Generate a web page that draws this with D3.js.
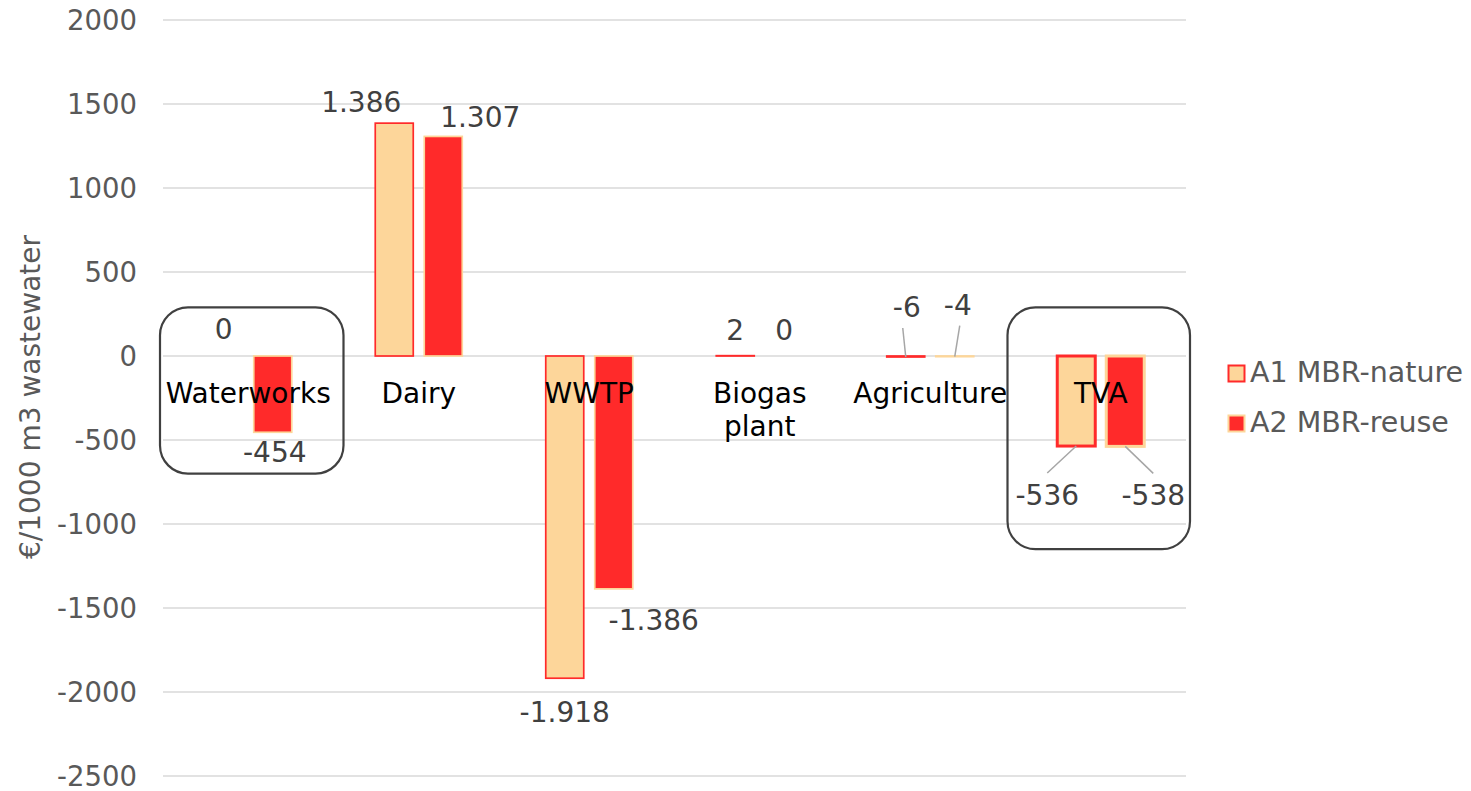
<!DOCTYPE html>
<html><head><meta charset="utf-8">
<script src="https://cdn.jsdelivr.net/npm/d3@7"></script>
<style>
html,body{margin:0;padding:0;background:#fff;}
svg{display:block;font-family:"DejaVu Sans",Verdana,sans-serif;}
</style></head>
<body>
<svg id="chart" width="1471" height="791"></svg>
<script>
const categories = ["Waterworks", "Dairy", "WWTP", "Biogas plant", "Agriculture", "TVA"];
const seriesNames = ["A1 MBR-nature", "A2 MBR-reuse"];
const a1Values = [0, 1386, -1918, 2, -6, -536];
const a2Values = [-454, 1307, -1386, 0, -4, -538];
const a1Labels = ["0", "1.386", "-1.918", "2", "-6", "-536"];
const a2Labels = ["-454", "1.307", "-1.386", "0", "-4", "-538"];
const yTicks = [2000, 1500, 1000, 500, 0, -500, -1000, -1500, -2000, -2500];
const yTitle = "€/1000 m3 wastewater";
const boxedCategories = ["Waterworks", "TVA"];

const svg = d3.select("#chart");
const left = 163, right = 1186;
const y = d3.scaleLinear().domain([-2500, 2000]).range([776, 20]);
const x = d3.scaleBand().domain(categories).range([left, right]);
const barW = 38, gap = 11;
const FS = 28;

const fillA1 = "#FDD69A", fillA2 = "#FF2A2A";
const colors = [{fill: fillA1, stroke: fillA2}, {fill: fillA2, stroke: fillA1}];

// gridlines
svg.append("g").selectAll("line").data(yTicks).join("line")
  .attr("x1", left).attr("x2", right)
  .attr("y1", d => y(d)).attr("y2", d => y(d))
  .attr("stroke", "#d9d9d9").attr("stroke-width", 1.6);

// y axis labels
const yAxis = d3.axisLeft(y).tickValues(yTicks).tickSize(0).tickPadding(0).tickFormat(d => String(d));
const ya = svg.append("g").attr("transform", "translate(137,0)").call(yAxis);
ya.select(".domain").remove();
ya.selectAll("text").attr("font-size", 27.5).attr("fill", "#595959")
  .attr("font-family", "DejaVu Sans, Verdana, sans-serif").attr("dy", "0.36em");

// y title
svg.append("text").attr("transform", `translate(40,397) rotate(-90)`)
  .attr("text-anchor", "middle").attr("font-size", 28).attr("fill", "#595959")
  .text(yTitle);

// bars
const series = [a1Values, a2Values];
const cx = (c, s) => x(c) + x.bandwidth() / 2 + (s === 0 ? -(barW + gap) / 2 : (barW + gap) / 2);
series.forEach((vals, s) => {
  const data = categories.map((c, i) => ({c, v: vals[i]})).filter(d => d.v !== 0);
  svg.append("g").selectAll("rect").data(data).join("rect")
    .attr("x", d => cx(d.c, s) - barW / 2)
    .attr("width", barW)
    .attr("y", d => Math.min(y(d.v), y(0)))
    .attr("height", d => Math.abs(y(d.v) - y(0)))
    .attr("fill", colors[s].fill)
    .attr("stroke", colors[s].stroke)
    .attr("stroke-width", d => d.c === "TVA" ? 3 : 1.7);
});

// category labels
categories.forEach(c => {
  const t = svg.append("text").attr("x", x(c) + x.bandwidth() / 2).attr("y", 403)
    .attr("text-anchor", "middle").attr("font-size", FS).attr("fill", "#000");
  const words = c === "Biogas plant" ? ["Biogas", "plant"] : [c];
  words.forEach((w, i) => t.append("tspan").attr("x", x(c) + x.bandwidth() / 2).attr("dy", i ? 33 : 0).text(w));
});

// data labels (offsets relative to bar ends)
const labelOffsets = [
  [[0, -17], [2, 30]],
  [[-33, -11], [37, -9]],
  [[0, 44], [40, 41]],
  [[0, -16], [0, -16]],
  [[1, -40], [3, -42]],
  [[-29, 59], [28, 59]]
];
const leaders = {
  "Agriculture": [[[-3, -29], [0, 0]], [[5, -31], [0, 0]]],
  "TVA": [[[-29, 27], [0, 0]], [[28, 27], [0, 0]]]
};
const labelsArr = [a1Labels, a2Labels];
categories.forEach((c, i) => {
  [0, 1].forEach(s => {
    const bx = cx(c, s), by = y(series[s][i]);
    const off = labelOffsets[i][s];
    svg.append("text").attr("x", bx + off[0]).attr("y", by + off[1])
      .attr("text-anchor", "middle").attr("font-size", FS).attr("fill", "#404040")
      .text(labelsArr[s][i]);
    if (leaders[c]) {
      const L = leaders[c][s];
      svg.append("line").attr("x1", bx + L[0][0]).attr("y1", by + L[0][1])
        .attr("x2", bx + L[1][0]).attr("y2", by + L[1][1])
        .attr("stroke", "#a6a6a6").attr("stroke-width", 1.5);
    }
  });
});

// rounded boxes
const boxY = {"Waterworks": [290, -700], "TVA": [290, -1150]};
const boxX = {"Waterworks": [-3, 10], "TVA": [-8, 4]};
boxedCategories.forEach(c => {
  const x0 = x(c) + boxX[c][0], x1 = x(c) + x.bandwidth() + boxX[c][1];
  svg.append("rect").attr("x", x0).attr("y", y(boxY[c][0]))
    .attr("width", x1 - x0).attr("height", y(boxY[c][1]) - y(boxY[c][0]))
    .attr("rx", 28).attr("ry", 28)
    .attr("fill", "none").attr("stroke", "#404040").attr("stroke-width", 2.2);
});

// legend
const lg = svg.append("g");
seriesNames.forEach((n, s) => {
  const yy = 365 + s * 50;
  lg.append("rect").attr("x", 1228.5).attr("y", yy + 0.5).attr("width", 16).attr("height", 16)
    .attr("fill", colors[s].fill).attr("stroke", colors[s].stroke).attr("stroke-width", 2);
  lg.append("text").attr("x", 1250).attr("y", yy + 17).attr("font-size", 28.5).attr("fill", "#595959").text(n);
});
</script>
</body></html>
